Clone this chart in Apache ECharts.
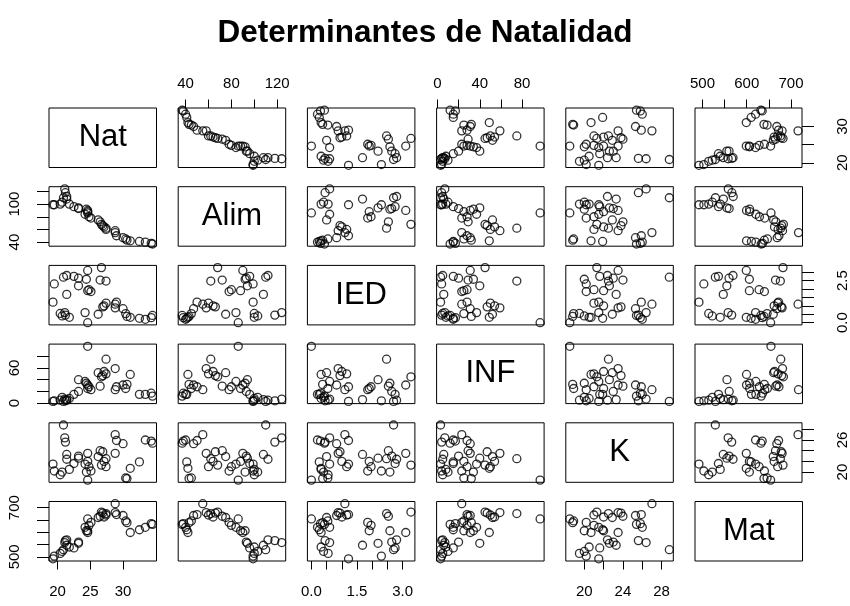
<!DOCTYPE html>
<html>
<head>
<meta charset="utf-8">
<script src="https://cdn.jsdelivr.net/npm/echarts@6/dist/echarts.min.js"></script>
<style>html,body{margin:0;background:#fff}#main{width:850px;height:606px}</style>
</head>
<body>
<div id="main"></div>
<script>
// variables of the scatterplot matrix (one value per country)
const names = ['Nat', 'Alim', 'IED', 'INF', 'K', 'Mat'];
const nat  = [34.5,34.3,33.4,32.5,31.1,30.6,30.4,30.0,29.0,28.8,28.8,27.4,27.4,27.1,26.9,26.7,26.5,26.2,25.1,24.8,24.6,24.6,24.6,24.4,24.2,23.2,23.2,22.5,21.8,21.4,21.4,21.2,21.1,20.9,20.7,20.4,19.5,19.3];
const alim = [37,38,40,41,42,43,45,47,50,55,58,62,60,64,66,68,72,75,78,80,86,88,90,92,84,94,93,96,100,108,112,118,124,110,103,100,99,99];
const ied  = [0.43,0.30,0.20,0.26,0.32,0.37,0.54,0.83,1.22,1.10,0.88,2.47,1.16,1.00,0.94,3.27,2.53,0.50,1.85,1.96,0.00,1.90,3.10,2.58,0.60,2.19,2.64,2.75,0.32,1.68,2.80,0.45,0.60,2.70,0.40,0.55,2.30,1.22];
const inf  = [12,17,15,15,49,32,25,31,28,23,59,75,50,54,47,45,29,52,23,28,97,25,31,34,37,40,20,15,8,6,5,4,7,3,10,5,4,3];
const k    = [25.4,25.8,26.0,21.9,20.7,18.8,18.9,25.3,25.9,27.0,23.5,22.5,21.0,22.0,23.8,21.3,24.0,22.9,20.2,21.0,18.5,22.0,23.5,20.0,21.5,22.6,23.0,21.6,20.5,23.3,22.4,25.6,26.4,28.8,20.0,19.5,20.2,21.5];
const mat  = [632,635,620,610,599,639,646,668,672,716,680,676,670,662,678,682,665,660,640,628,654,606,599,606,620,555,560,536,540,547,569,566,558,529,522,514,503,492];

// tick positions and the labels R kept on each outer axis
const ticks = [[20,25,30],[40,60,80,100,120],[0,0.5,1,1.5,2,2.5,3],[0,20,40,60,80],[20,22,24,26,28],[500,550,600,650,700]];
const labelsX = [[20,25,30],[40,80,120],[0,1.5,3],[0,40,80],[20,24,28],[500,600,700]];
const labelsY = [[20,30],[40,100],[0,2.5],[0,60],[20,26],[500,700]];

const vars = [nat, alim, ied, inf, k, mat];
const lims = vars.map(v => {
  const lo = Math.min(...v), hi = Math.max(...v), p = (hi - lo) * 0.04;
  return [lo - p, hi + p];
});
const fmt = i => (v => i === 2 ? v.toFixed(1) : String(v));

const L0 = 49, T0 = 108, DX = 129.2, DY = 78.7, W = 107.5, H = 59.5;
const font = 'Liberation Sans';
const grid = [], xAxis = [], yAxis = [], series = [], graphic = [];

for (let r = 0; r < 6; r++) {
  for (let c = 0; c < 6; c++) {
    const i = r * 6 + c;
    const left = L0 + c * DX, top = T0 + r * DY;
    grid.push({left: left, top: top, width: W, height: H, show: true,
      borderColor: '#000', borderWidth: 1, backgroundColor: 'transparent'});
    const diag = r === c;
    const showTop = !diag && r === 0 && c % 2 === 1;
    const showBottom = !diag && r === 5 && c % 2 === 0;
    const showLeft = !diag && c === 0 && r % 2 === 1;
    const showRight = !diag && c === 5 && r % 2 === 0;
    xAxis.push({
      type: 'value', gridIndex: i,
      min: diag ? 0 : lims[c][0], max: diag ? 1 : lims[c][1],
      show: showTop || showBottom,
      position: showTop ? 'top' : 'bottom',
      axisLine: {show: false}, splitLine: {show: false},
      axisTick: {show: true, length: 8.5, customValues: ticks[c], lineStyle: {color: '#000'}},
      axisLabel: {show: true, customValues: labelsX[c], margin: showTop ? 17 : 23,
        color: '#000', fontSize: 15, fontFamily: font, formatter: fmt(c)}
    });
    yAxis.push({
      type: 'value', gridIndex: i,
      min: diag ? 0 : lims[r][0], max: diag ? 1 : lims[r][1],
      show: showLeft || showRight,
      position: showLeft ? 'left' : 'right',
      axisLine: {show: false}, splitLine: {show: false},
      axisTick: {show: true, length: 12, customValues: ticks[r], lineStyle: {color: '#000'}},
      axisLabel: {show: true, customValues: labelsY[r], rotate: 90, margin: showLeft ? 27 : 33,
        color: '#000', fontSize: 15, fontFamily: font, formatter: fmt(r)}
    });
    if (diag) {
      graphic.push({type: 'text', x: left + W / 2, y: top + H / 2,
        style: {text: names[r], fontSize: 31, fontFamily: font, fill: '#000',
          align: 'center', verticalAlign: 'middle'}});
    } else {
      series.push({
        type: 'scatter', xAxisIndex: i, yAxisIndex: i,
        data: vars[c].map((v, j) => [v, vars[r][j]]),
        symbol: 'circle', symbolSize: 8,
        itemStyle: {color: 'rgba(0,0,0,0)', borderColor: '#000', borderWidth: 1.3},
        silent: true
      });
    }
  }
}

const chart = echarts.init(document.getElementById('main'));
chart.setOption({
  animation: false,
  backgroundColor: '#fff',
  title: {text: 'Determinantes de Natalidad', left: 'center', top: 12,
    textStyle: {fontSize: 31.5, fontWeight: 'bold', fontFamily: font, color: '#000'}},
  grid: grid, xAxis: xAxis, yAxis: yAxis, series: series, graphic: graphic
});
</script>
</body>
</html>
